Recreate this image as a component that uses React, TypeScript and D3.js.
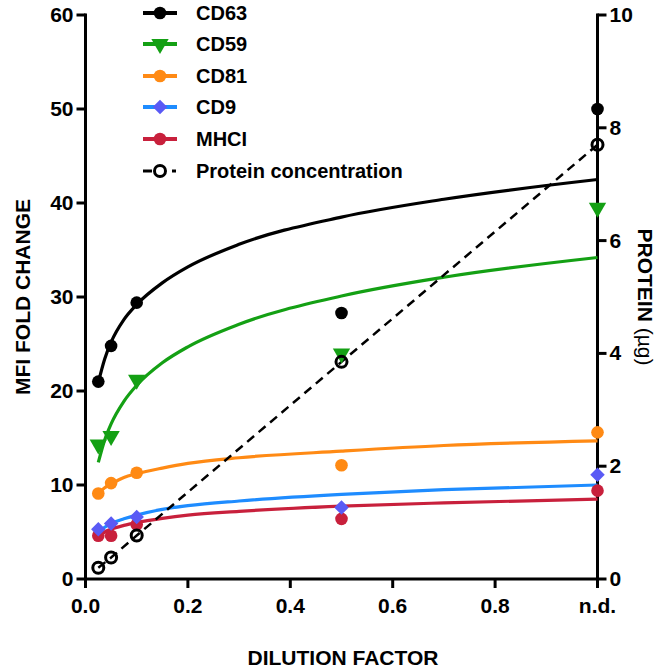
import React, { useEffect, useRef } from "react";
import * as d3 from "d3";

// dilution factors (n.d. drawn at 1.0)
const dilution = [0.025, 0.05, 0.1, 0.5, 1.0];

// measured MFI fold change
const cd63 = [21.0, 24.8, 29.4, 28.3, 50.0];
const cd59 = [14.3, 15.2, 21.2, 24.0, 39.5];
const cd81 = [9.1, 10.2, 11.3, 12.1, 15.6];
const cd9 = [5.3, 5.9, 6.6, 7.6, 11.1];
const mhci = [4.6, 4.6, 5.8, 6.4, 9.4];

// protein (ug), right axis
const protein = [0.2, 0.38, 0.77, 3.85, 7.7];

// fitted curves
const fitX = [0.025, 0.0375, 0.05, 0.075, 0.1, 0.15, 0.2, 0.3, 0.5, 0.7, 1.0];
const cd63Fit = [20.9, 23.4, 25.2, 27.6, 29.2, 31.5, 33.2, 35.6, 38.5, 40.4, 42.5];
const cd59Fit = [12.4, 14.8, 16.5, 18.9, 20.6, 23.0, 24.7, 27.1, 30.1, 32.1, 34.2];
const cd81Fit = [9.1, 9.7, 10.1, 10.8, 11.2, 11.8, 12.3, 12.9, 13.6, 14.2, 14.7];
const cd9Fit = [4.9, 5.5, 5.9, 6.4, 6.8, 7.4, 7.8, 8.3, 9.0, 9.5, 10.0];
const mhciFit = [4.5, 5.0, 5.3, 5.7, 6.0, 6.45, 6.8, 7.2, 7.75, 8.1, 8.5];

const xTicks = [0, 0.2, 0.4, 0.6, 0.8, 1.0];
const xTickLabels = ["0.0", "0.2", "0.4", "0.6", "0.8", "n.d."];
const leftTicks = [0, 10, 20, 30, 40, 50, 60];
const rightTicks = [0, 2, 4, 6, 8, 10];

const seriesNames = ["CD63", "CD59", "CD81", "CD9", "MHCI"];
const lineColors = ["#000000", "#14a014", "#ff8a14", "#1e8cff", "#c8203c"];
const markerColors = ["#000000", "#14a014", "#ff8a14", "#5a5af5", "#c8203c"];
const markerShapes = ["circle", "triangle", "circle", "diamond", "circle"];

const FONT = "Arial, 'Liberation Sans', sans-serif";

export default function App() {
  const ref = useRef<SVGSVGElement>(null);

  useEffect(() => {
    const svg = d3.select(ref.current);
    svg.selectAll("*").remove();

    const x = d3.scaleLinear().domain([0, 1]).range([85.5, 597.5]);
    const yL = d3.scaleLinear().domain([0, 60]).range([579, 15]);
    const yR = d3.scaleLinear().domain([0, 10]).range([579, 15]);

    const values = [cd63, cd59, cd81, cd9, mhci];
    const fits = [cd63Fit, cd59Fit, cd81Fit, cd9Fit, mhciFit];

    const symbolFor = (shape: string) => {
      if (shape === "triangle") return d3.symbol().type(d3.symbolTriangle).size(130)();
      if (shape === "diamond") return d3.symbol().type(d3.symbolSquare).size(105)();
      return d3.symbol().type(d3.symbolCircle).size(125)();
    };
    const rot = (shape: string) =>
      shape === "triangle" ? " rotate(180)" : shape === "diamond" ? " rotate(45)" : "";

    // axes
    const ax = svg.append("g").attr("stroke", "#000").attr("stroke-width", 3);
    ax.append("line").attr("x1", x(0)).attr("x2", x(0)).attr("y1", yL(60) - 1.5).attr("y2", 588);
    ax.append("line").attr("x1", x(1)).attr("x2", x(1)).attr("y1", yR(10) - 1.5).attr("y2", 588);
    ax.append("line").attr("x1", x(0)).attr("x2", x(1)).attr("y1", 579).attr("y2", 579);

    ax.selectAll(".lt").data(leftTicks).join("line")
      .attr("x1", x(0) - 9).attr("x2", x(0)).attr("y1", d => yL(d)).attr("y2", d => yL(d));
    ax.selectAll(".rt").data(rightTicks).join("line")
      .attr("x1", x(1)).attr("x2", x(1) + 9).attr("y1", d => yR(d)).attr("y2", d => yR(d));
    ax.selectAll(".bt").data(xTicks).join("line")
      .attr("x1", d => x(d)).attr("x2", d => x(d)).attr("y1", 579).attr("y2", 588);

    const txt = svg.append("g").attr("font-family", FONT).attr("font-weight", "bold")
      .attr("font-size", 21).attr("fill", "#000");

    txt.selectAll(".ll").data(leftTicks).join("text")
      .attr("x", x(0) - 12).attr("y", d => yL(d) + 7).attr("text-anchor", "end").text(d => d);
    txt.selectAll(".rl").data(rightTicks).join("text")
      .attr("x", x(1) + 12).attr("y", d => yR(d) + 7).attr("text-anchor", "start").text(d => d);
    txt.selectAll(".bl").data(xTicks).join("text")
      .attr("x", d => x(d)).attr("y", 613).attr("text-anchor", "middle")
      .text((d, i) => xTickLabels[i]);

    txt.append("text").attr("x", 343).attr("y", 665).attr("text-anchor", "middle").text("DILUTION FACTOR");
    txt.append("text").attr("transform", "translate(30,297) rotate(-90)")
      .attr("text-anchor", "middle").text("MFI FOLD CHANGE");
    const pr = txt.append("text").attr("transform", "translate(638,297) rotate(90)")
      .attr("text-anchor", "middle");
    pr.append("tspan").text("PROTEIN  ");
    pr.append("tspan").attr("font-weight", "normal").text("(\u00b5g)");

    // fitted curves
    const line = d3.line<number>().x((d, i) => x(fitX[i])).curve(d3.curveMonotoneX);
    fits.forEach((f, s) => {
      svg.append("path")
        .attr("d", line.y(d => yL(d))(f))
        .attr("fill", "none").attr("stroke", lineColors[s]).attr("stroke-width", 3.2);
    });

    // protein dashed line
    const pLine = d3.line<number>().x((d, i) => x(dilution[i])).y(d => yR(d));
    svg.append("path").attr("d", pLine(protein)).attr("fill", "none")
      .attr("stroke", "#000").attr("stroke-width", 2.5).attr("stroke-dasharray", "9,6");

    // markers (draw bottom series first)
    for (let s = values.length - 1; s >= 0; s--) {
      svg.append("g").selectAll("path").data(values[s]).join("path")
        .attr("d", symbolFor(markerShapes[s]))
        .attr("transform", (d, i) => `translate(${x(dilution[i])},${yL(d)})${rot(markerShapes[s])}`)
        .attr("fill", markerColors[s]);
    }
    svg.append("g").selectAll("circle").data(protein).join("circle")
      .attr("cx", (d, i) => x(dilution[i])).attr("cy", d => yR(d)).attr("r", 5.5)
      .attr("fill", "none").attr("stroke", "#000").attr("stroke-width", 3);

    // legend
    const legendY = [13, 44, 76, 107, 139, 171];
    const lg = svg.append("g");
    seriesNames.forEach((name, s) => {
      const yy = legendY[s];
      lg.append("line").attr("x1", 143).attr("x2", 177).attr("y1", yy).attr("y2", yy)
        .attr("stroke", lineColors[s]).attr("stroke-width", 4);
      lg.append("path").attr("d", symbolFor(markerShapes[s]))
        .attr("transform", `translate(160,${yy})${rot(markerShapes[s])}`)
        .attr("fill", markerColors[s]);
      lg.append("text").attr("x", 196).attr("y", yy + 7).attr("font-family", FONT)
        .attr("font-weight", "bold").attr("font-size", 20).text(name);
    });
    const py = legendY[5];
    lg.append("line").attr("x1", 143).attr("x2", 152).attr("y1", py).attr("y2", py)
      .attr("stroke", "#000").attr("stroke-width", 3);
    lg.append("line").attr("x1", 172).attr("x2", 176).attr("y1", py).attr("y2", py)
      .attr("stroke", "#000").attr("stroke-width", 3);
    lg.append("circle").attr("cx", 160).attr("cy", py).attr("r", 5.5)
      .attr("fill", "none").attr("stroke", "#000").attr("stroke-width", 3);
    lg.append("text").attr("x", 196).attr("y", py + 7).attr("font-family", FONT)
      .attr("font-weight", "bold").attr("font-size", 20).text("Protein concentration");
  }, []);

  return (
    <svg ref={ref} width={666} height={671}
      style={{ position: "absolute", left: 0, top: 0, background: "#fff" }} />
  );
}
